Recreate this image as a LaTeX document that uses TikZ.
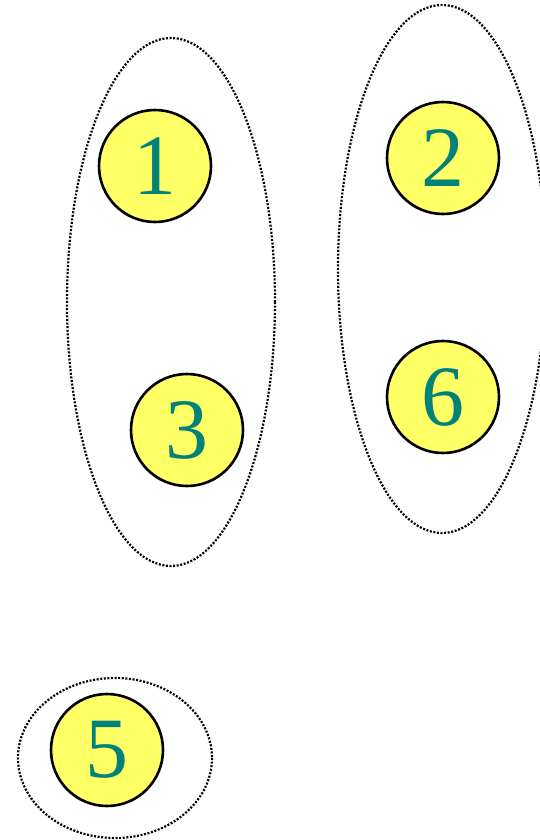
\documentclass[tikz,border=0pt]{standalone}
\usepackage{fontspec}
\setmainfont{Liberation Serif}
\definecolor{numteal}{RGB}{0,130,120}
\definecolor{ballyellow}{RGB}{255,255,102}
\begin{document}
\begin{tikzpicture}[x=1pt,y=-1pt,
  ball/.style={circle,draw=black,line width=2.6pt,fill=ballyellow,minimum size=112pt,inner sep=0pt,
    text=numteal,font=\fontsize{86}{86}\selectfont},
  group/.style={draw=black,line width=2.2pt,dash pattern=on 2pt off 1.6pt}]
\useasboundingbox (0,0) rectangle (540,840);
\draw[group] (171,302) ellipse [x radius=104, y radius=264];
\draw[group] (442,269) ellipse [x radius=104, y radius=264];
\draw[group] (115,758) ellipse [x radius=97, y radius=80];
\node[ball] (n1) at (155,166) {\raisebox{-2pt}{1}};
\node[ball] (n2) at (443,158) {\raisebox{-2pt}{2}};
\node[ball] (n3) at (187,430) {\raisebox{-2pt}{3}};
\node[ball] (n6) at (443,397) {\raisebox{-2pt}{6}};
\node[ball] (n5) at (107,750) {\raisebox{-2pt}{5}};
\end{tikzpicture}
\end{document}
